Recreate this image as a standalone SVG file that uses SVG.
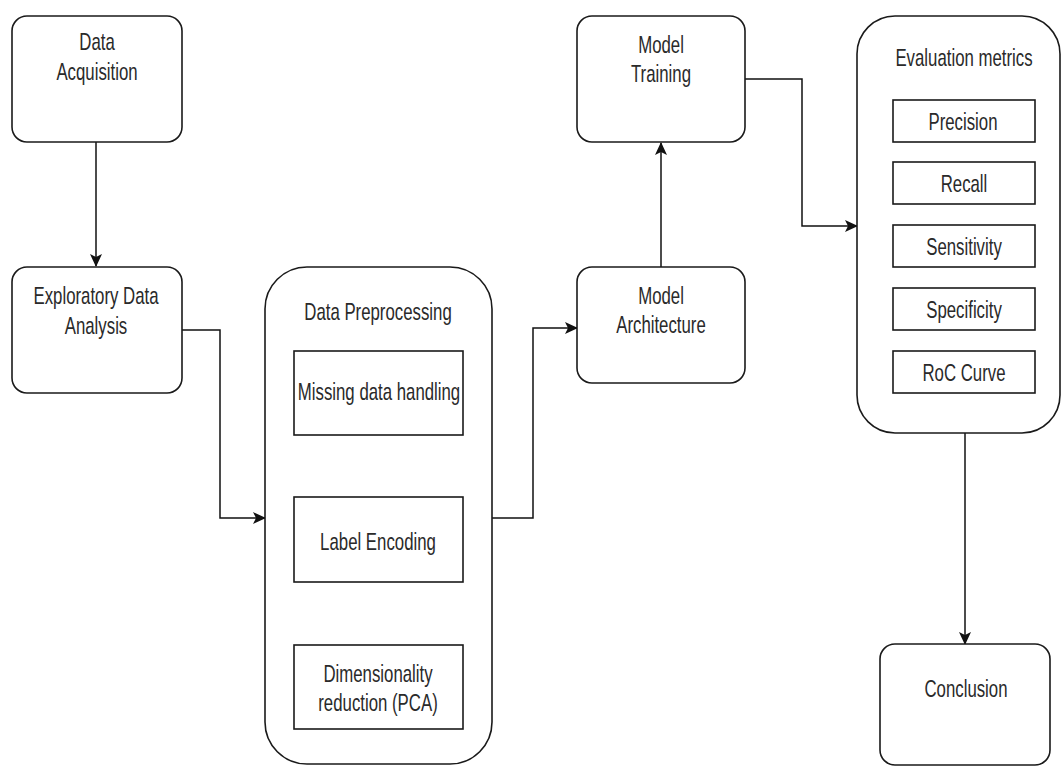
<svg xmlns="http://www.w3.org/2000/svg" width="1062" height="767" viewBox="0 0 1062 767">
<defs>
<style>
.box{fill:#fff;stroke:#1a1a1a;stroke-width:1.6}
.conn{fill:none;stroke:#111;stroke-width:1.5}
text{font-family:"Liberation Sans",Arial,sans-serif;font-size:24px;fill:#2a2a2a;text-anchor:middle}
</style>
<marker id="arr" markerUnits="userSpaceOnUse" markerWidth="14" markerHeight="12" viewBox="0 0 14 12" refX="12" refY="6" orient="auto">
<path d="M0,0 L13,6 L0,12 L3,6 Z" fill="#111"/>
</marker>
</defs>
<rect width="1062" height="767" fill="#fff"/>
<g id="connectors">
<path class="conn" d="M96,142 V266" marker-end="url(#arr)"/>
<path class="conn" d="M182,330 H220 V518 H265" marker-end="url(#arr)"/>
<path class="conn" d="M492,518 H533 V328 H577" marker-end="url(#arr)"/>
<path class="conn" d="M661,267 V143" marker-end="url(#arr)"/>
<path class="conn" d="M745,79 H802 V226 H857" marker-end="url(#arr)"/>
<path class="conn" d="M965,433 V644" marker-end="url(#arr)"/>
</g>
<g id="data-acquisition">
<rect class="box" x="12" y="16" width="170" height="126" rx="15"/>
<text transform="translate(97,50) scale(0.7,1)">Data</text>
<text transform="translate(97,80) scale(0.7,1)">Acquisition</text>
</g>
<g id="eda">
<rect class="box" x="12" y="267" width="170" height="126" rx="15"/>
<text transform="translate(96,304) scale(0.7,1)">Exploratory Data</text>
<text transform="translate(96,334) scale(0.7,1)">Analysis</text>
</g>
<g id="data-preprocessing">
<rect class="box" x="265" y="267" width="227" height="497" rx="42"/>
<text transform="translate(378,320) scale(0.7,1)">Data Preprocessing</text>
<rect class="box" x="294" y="351" width="169" height="84"/>
<text transform="translate(379,400) scale(0.7,1)">Missing data handling</text>
<rect class="box" x="294" y="497" width="169" height="85"/>
<text transform="translate(378,550) scale(0.7,1)">Label Encoding</text>
<rect class="box" x="294" y="645" width="169" height="84"/>
<text transform="translate(378,682) scale(0.7,1)">Dimensionality</text>
<text transform="translate(378,711) scale(0.7,1)">reduction (PCA)</text>
</g>
<g id="model-architecture">
<rect class="box" x="577" y="267" width="168" height="116" rx="15"/>
<text transform="translate(661,304) scale(0.7,1)">Model</text>
<text transform="translate(661,333) scale(0.7,1)">Architecture</text>
</g>
<g id="model-training">
<rect class="box" x="577" y="16" width="168" height="126" rx="15"/>
<text transform="translate(661,53) scale(0.7,1)">Model</text>
<text transform="translate(661,82) scale(0.7,1)">Training</text>
</g>
<g id="evaluation-metrics">
<rect class="box" x="857" y="16" width="203" height="417" rx="38"/>
<text transform="translate(964,66) scale(0.7,1)">Evaluation metrics</text>
<rect class="box" x="893" y="100" width="142" height="42"/>
<text transform="translate(963,130) scale(0.7,1)">Precision</text>
<rect class="box" x="893" y="162" width="142" height="42"/>
<text transform="translate(964,192) scale(0.7,1)">Recall</text>
<rect class="box" x="893" y="225" width="142" height="42"/>
<text transform="translate(964,255) scale(0.7,1)">Sensitivity</text>
<rect class="box" x="893" y="288" width="142" height="42"/>
<text transform="translate(964,318) scale(0.7,1)">Specificity</text>
<rect class="box" x="893" y="351" width="142" height="42"/>
<text transform="translate(964,381) scale(0.7,1)">RoC Curve</text>
</g>
<g id="conclusion">
<rect class="box" x="880" y="644" width="170" height="121" rx="15"/>
<text transform="translate(966,697) scale(0.7,1)">Conclusion</text>
</g>
</svg>
